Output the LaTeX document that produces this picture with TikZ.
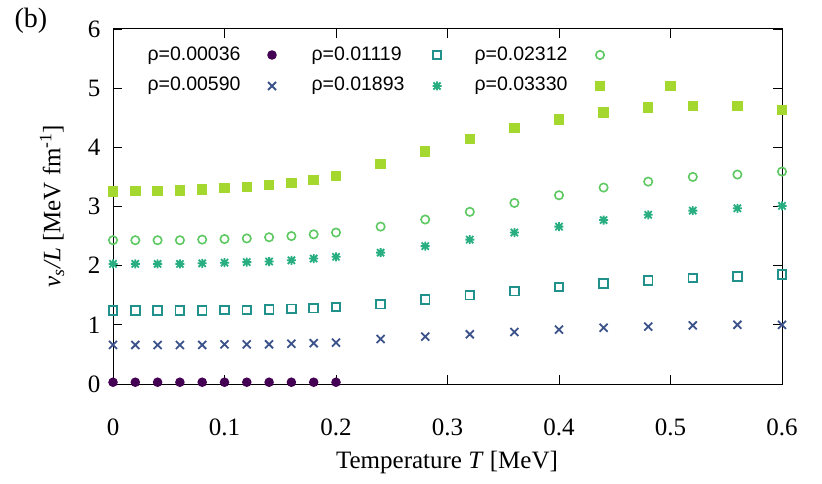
\documentclass[tikz,border=0pt]{standalone}
\usepackage{fontspec}
\setmainfont{Liberation Serif}
\newfontfamily\lsans{Liberation Sans}
\begin{document}
\begin{tikzpicture}[x=1pt,y=-1pt]
\definecolor{cA}{HTML}{440154}
\definecolor{cB}{HTML}{3B528B}
\definecolor{cC}{HTML}{21918C}
\definecolor{cD}{HTML}{28AE80}
\definecolor{cE}{HTML}{5EC962}
\definecolor{cF}{HTML}{A5D82F}
\tikzset{
 tlab/.style={font=\fontsize{25}{28}\selectfont},
 leg/.style={font=\lsans\fontsize{19.5}{22}\selectfont,anchor=west},
 mdot/.pic={\fill[cA] (0,0) circle (4.8);},
 mcross/.pic={\draw[cB,line width=1.8pt] (-4,-4)--(4,4) (-4,4)--(4,-4);},
 mosq/.pic={\draw[cC,line width=1.8pt] (-4.3,-4.3) rectangle (4.3,4.3);},
 mstar/.pic={\draw[cD,line width=1.8pt] (-3.6,-3.6)--(3.6,3.6) (-3.6,3.6)--(3.6,-3.6) (-4.5,0)--(4.5,0) (0,-4.5)--(0,4.5);},
 mocirc/.pic={\draw[cE,line width=1.6pt] (0,0) circle (4.2);},
 mfsq/.pic={\fill[cF] (-5.2,-5.2) rectangle (5.2,5.2);}
}
\useasboundingbox (0,0) rectangle (822,484);
\def\X#1{{113+(#1)*1115}}
\def\Y#1{{384-(#1)*59.17}}
\draw[line width=1pt] (113,29) rectangle (782,384);
\foreach \t in {0,0.1,0.2,0.3,0.4,0.5,0.6}{
 \draw[line width=0.8pt] (\X{\t},384)--(\X{\t},375) (\X{\t},29)--(\X{\t},38);
 \node[tlab] at (\X{\t},427) {\t};}
\foreach \v in {0,...,6}{
 \draw[line width=0.8pt] (113,\Y{\v})--(122,\Y{\v}) (782,\Y{\v})--(773,\Y{\v});
 \node[tlab,anchor=east] at (104,\Y{\v}) {\v};}
\node[tlab] (xl) at (447,462) {Temperature \textit{T} [MeV]};
\node[tlab,rotate=90] (yl) at (52,206) {\textit{v\textsubscript{s}/L} [MeV fm\textsuperscript{-1}]};
\node[tlab,font=\fontsize{28}{30}\selectfont] (b) at (31,21) {(b)};
\def\TA{0,0.02,0.04,0.06,0.08,0.1,0.12,0.14,0.16,0.18,0.2}
\foreach \t in \TA \pic at (\X{\t},\Y{0.03}) {mdot};
\foreach \t/\v in {0/0.66,0.02/0.66,0.04/0.66,0.06/0.66,0.08/0.66,0.1/0.67,0.12/0.67,0.14/0.67,0.16/0.68,0.18/0.69,0.2/0.7,0.24/0.76,0.28/0.8,0.32/0.84,0.36/0.88,0.4/0.92,0.44/0.95,0.48/0.97,0.52/0.99,0.56/1.0,0.6/1.0}
 \pic at (\X{\t},\Y{\v}) {mcross};
\foreach \t/\v in {0/1.24,0.02/1.24,0.04/1.24,0.06/1.24,0.08/1.24,0.1/1.25,0.12/1.25,0.14/1.26,0.16/1.27,0.18/1.28,0.2/1.30,0.24/1.35,0.28/1.43,0.32/1.50,0.36/1.57,0.4/1.64,0.44/1.70,0.48/1.75,0.52/1.79,0.56/1.82,0.6/1.85}
 \pic at (\X{\t},\Y{\v}) {mosq};
\foreach \t/\v in {0/2.03,0.02/2.03,0.04/2.03,0.06/2.03,0.08/2.04,0.1/2.05,0.12/2.06,0.14/2.07,0.16/2.09,0.18/2.12,0.2/2.15,0.24/2.22,0.28/2.33,0.32/2.44,0.36/2.56,0.4/2.66,0.44/2.77,0.48/2.86,0.52/2.93,0.56/2.97,0.6/3.01}
 \pic at (\X{\t},\Y{\v}) {mstar};
\foreach \t/\v in {0/2.43,0.02/2.43,0.04/2.43,0.06/2.43,0.08/2.44,0.1/2.45,0.12/2.46,0.14/2.48,0.16/2.50,0.18/2.53,0.2/2.56,0.24/2.66,0.28/2.78,0.32/2.91,0.36/3.06,0.4/3.19,0.44/3.32,0.48/3.42,0.52/3.50,0.56/3.54,0.6/3.59}
 \pic at (\X{\t},\Y{\v}) {mocirc};
\foreach \t/\v in {0/3.25,0.02/3.26,0.04/3.26,0.06/3.27,0.08/3.29,0.1/3.31,0.12/3.33,0.14/3.36,0.16/3.40,0.18/3.45,0.2/3.52,0.24/3.72,0.28/3.93,0.32/4.14,0.36/4.33,0.4/4.47,0.44/4.59,0.48/4.67,0.5/5.04,0.52/4.70,0.56/4.70,0.6/4.63}
 \pic at (\X{\t},\Y{\v}) {mfsq};
\node[leg] (l1) at (144,56) {ρ=0.00036}; \pic at (272,55) {mdot};
\node[leg] (l2) at (144,86) {ρ=0.00590}; \pic at (272,86) {mcross};
\node[leg] (l3) at (308,56) {ρ=0.01119}; \pic at (437,55) {mosq};
\node[leg] (l4) at (308,86) {ρ=0.01893}; \pic at (437,86) {mstar};
\node[leg] (l5) at (471,56) {ρ=0.02312}; \pic at (600,55) {mocirc};
\node[leg] (l6) at (471,86) {ρ=0.03330}; \pic at (600,86) {mfsq};
\end{tikzpicture}
\end{document}
